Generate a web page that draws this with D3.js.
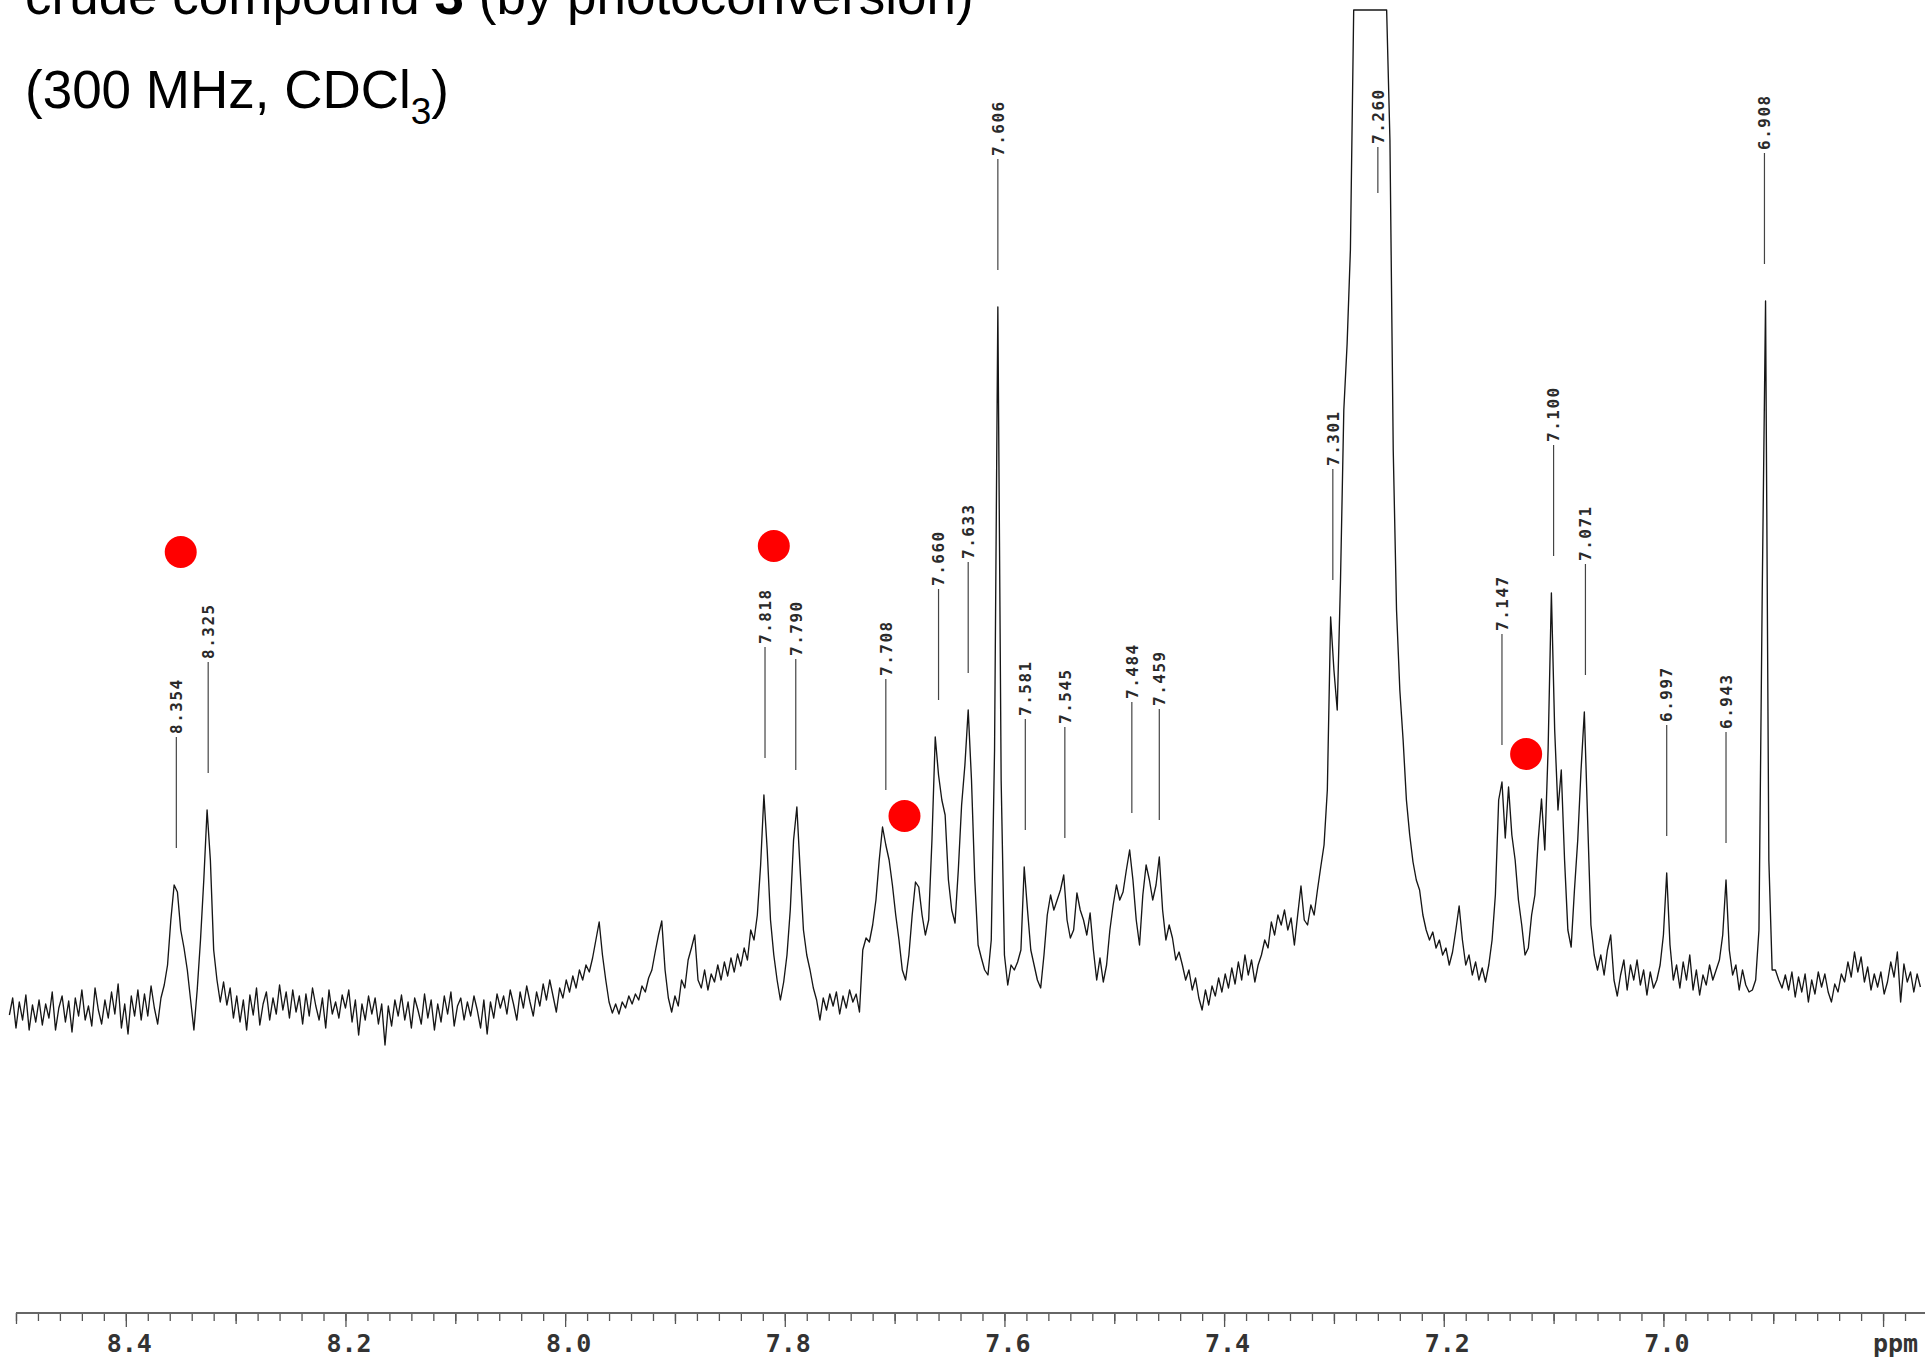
<!DOCTYPE html>
<html>
<head>
<meta charset="utf-8">
<script src="https://cdn.jsdelivr.net/npm/d3@7"></script>
<style>
  html, body { margin: 0; padding: 0; background: #fff; }
  svg { display: block; }
</style>
</head>
<body>
<svg id="chart" width="1925" height="1357"></svg>
<script>
// Spectrum trace: one intensity per 0.003 ppm step, starting at 8.506 ppm.
// Values (arbitrary units, 1000 = plotter clip).
var startPpm = 8.506;
var stepPpm = 0.003;
var intensity = [
  -5, 12, -18, 8, -10, 15, -20, 5, -12, 10,
  -15, 6, -8, 18, -20, 2, 14, -12, 9, -22,
  12, -6, 20, -10, 4, -16, 22, 0, -14, 10,
  -8, 18, -4, 26, -18, 6, -24, 14, -6, 20,
  -10, 16, -6, 24, 2, -14, 12, 25, 45, 90,
  125, 118, 80, 62, 40, 10, -20, 20, 70, 130,
  200, 150, 60, 30, 8, 28, 5, 22, -8, 14,
  -12, 10, -20, 15, -5, 22, -15, 6, 18, -10,
  12, -4, 25, 0, 18, -8, 20, -2, 14, -14,
  16, -6, 22, 4, -10, 12, -18, 20, -4, 8,
  -8, 15, 2, 20, -12, 10, -25, 6, -10, 14,
  -4, 12, -14, 6, -35, 4, -16, 10, -6, 15,
  -10, 8, -18, 12, 0, -14, 16, -8, 10, -20,
  6, -12, 14, -4, 18, -16, 4, 12, -10, 8,
  -6, 14, 0, -18, 10, -24, 8, -8, 16, 2,
  14, -4, 20, 6, -10, 18, 2, 24, 8, -6,
  18, 4, 26, 10, 30, 14, -2, 22, 12, 30,
  18, 34, 22, 40, 30, 45, 38, 52, 70, 88,
  55, 30, 8, -3, 6, -4, 8, 2, 14, 6,
  16, 10, 24, 18, 32, 40, 58, 75, 89, 40,
  12, -2, 14, 4, 30, 22, 50, 62, 75, 30,
  22, 40, 20, 36, 28, 45, 30, 48, 34, 52,
  38, 56, 44, 62, 50, 80, 70, 95, 145, 215,
  160, 90, 55, 30, 10, 28, 55, 100, 170, 203,
  140, 80, 55, 40, 22, 10, -10, 12, 0, 16,
  4, 18, -4, 14, 2, 20, 8, 16, -2, 60,
  72, 68, 85, 110, 150, 183, 165, 150, 125, 95,
  70, 40, 30, 55, 95, 128, 123, 95, 75, 90,
  170, 273, 235, 210, 195, 130, 100, 87, 140, 205,
  245, 300, 230, 130, 65, 52, 40, 35, 70, 260,
  703, 230, 55, 25, 45, 40, 48, 60, 143, 100,
  60, 45, 30, 22, 55, 95, 115, 100, 110, 120,
  135, 90, 72, 80, 117, 100, 90, 75, 97, 60,
  30, 52, 28, 45, 80, 105, 125, 110, 118, 140,
  160, 130, 90, 65, 115, 145, 130, 110, 125, 153,
  100, 70, 85, 72, 50, 58, 45, 30, 40, 20,
  32, 12, 0, 20, 5, 24, 14, 32, 18, 36,
  22, 42, 26, 48, 30, 55, 35, 50, 28, 45,
  55, 70, 62, 88, 75, 95, 85, 100, 80, 92,
  65, 95, 124, 90, 85, 105, 95, 120, 143, 165,
  220, 393, 340, 300, 430, 600, 666, 760, 1000, 1000,
  1000, 1000, 1000, 1000, 1000, 1000, 1000, 1000, 1000, 870,
  560, 400, 320, 270, 210, 175, 148, 130, 120, 95,
  80, 70, 78, 62, 70, 55, 62, 45, 58, 80,
  104, 70, 45, 55, 35, 48, 30, 42, 28, 45,
  70, 115, 210, 228, 172, 223, 175, 150, 110, 85,
  55, 62, 95, 115, 170, 211, 160, 260, 417, 280,
  200, 240, 150, 80, 63, 120, 170, 240, 298, 190,
  85, 55, 40, 55, 35, 60, 75, 30, 14, 35,
  50, 20, 45, 30, 50, 25, 40, 15, 38, 22,
  30, 45, 75, 137, 65, 30, 45, 22, 48, 30,
  55, 20, 40, 15, 35, 25, 45, 30, 40, 50,
  75, 130, 60, 35, 45, 20, 40, 25, 18, 20,
  30, 80, 420, 709, 150, 40, 40, 30, 22, 35,
  20, 38, 13, 33, 18, 36, 8, 30, 16, 38,
  23, 36, 18, 8, 26, 18, 36, 28, 48, 33,
  58, 38, 53, 28, 43, 20, 36, 23, 38, 16,
  28, 48, 33, 58, 8, 46, 28, 38, 18, 36,
  23
];

// Peak picks printed above the trace.
var peakLabels = ["8.354", "8.325", "7.818", "7.790", "7.708", "7.660", "7.633",
                  "7.606", "7.581", "7.545", "7.484", "7.459", "7.301", "7.260",
                  "7.147", "7.100", "7.071", "6.997", "6.943", "6.908"];

// Red dots marking the product signals.
var markerPpm = [8.350, 7.810, 7.691, 7.125];
var markerHeight = [458, 464, 194, 256];

// Axis ticks in ppm.
var majorTicks = [8.4, 8.2, 8.0, 7.8, 7.6, 7.4, 7.2, 7.0, 6.8];
var mediumTicks = [8.5, 8.3, 8.1, 7.9, 7.7, 7.5, 7.3, 7.1, 6.9];
var minorTicks = d3.range(0, 87).map(function (i) { return +(8.50 - i * 0.02).toFixed(2); });

// Title text.
var titleStart = "crude compound ";
var titleBold = "3";
var titleEnd = " (by photoconversion)";
var subtitleMain = "(300 MHz, CDCl";
var subtitleSub = "3";

var svg = d3.select("#chart");
svg.append("rect").attr("width", 1925).attr("height", 1357).attr("fill", "#ffffff");

// Scales: ppm runs right to left.
var x = d3.scaleLinear().domain([8.51, 6.76]).range([5, 1927]);
var y = d3.scaleLinear().domain([0, 1000]).range([1010, 10]);

var points = intensity.map(function (v, i) {
    return { ppm: startPpm - i * stepPpm, v: v };
});

// Title.
var t1 = svg.append("text")
    .attr("x", 25).attr("y", 14)
    .attr("font-family", "Liberation Sans, Arial, sans-serif")
    .attr("font-size", 53)
    .attr("fill", "#000");
t1.append("tspan").text(titleStart);
t1.append("tspan").attr("font-weight", "bold").text(titleBold);
t1.append("tspan").text(titleEnd);

var t2 = svg.append("text")
    .attr("x", 25).attr("y", 108)
    .attr("font-family", "Liberation Sans, Arial, sans-serif")
    .attr("font-size", 53)
    .attr("fill", "#000");
t2.append("tspan").text(subtitleMain);
t2.append("tspan").attr("font-size", 37).attr("dy", 16).text(subtitleSub);
t2.append("tspan").attr("dy", -16).text(")");

// Spectrum trace.
var line = d3.line()
    .x(function (d) { return x(d.ppm); })
    .y(function (d) { return y(d.v); });

svg.append("path")
    .datum(points)
    .attr("d", line)
    .attr("fill", "none")
    .attr("stroke", "#161616")
    .attr("stroke-width", 1.35)
    .attr("stroke-linejoin", "round");

// Peak labels: a short stem above each peak and the rotated value.
var labelGroup = svg.append("g").attr("class", "peak-labels");
peakLabels.forEach(function (lab) {
    var val = +lab;
    var top = d3.max(points.filter(function (p) { return Math.abs(p.ppm - val) <= 0.0061; }),
        function (p) { return p.v; });
    var lineBottom, lineTop;
    if (top >= 1000) {
        // off-scale peak: stem sits inside the clipped box
        lineBottom = y(1000) + 183;
        lineTop = lineBottom - 46;
    } else {
        lineBottom = y(top) - 37;
        lineTop = lineBottom - 111;
    }
    var px = x(val);
    labelGroup.append("line")
        .attr("x1", px).attr("x2", px)
        .attr("y1", lineTop).attr("y2", lineBottom)
        .attr("stroke", "#444")
        .attr("stroke-width", 1.2);
    labelGroup.append("text")
        .attr("transform", "translate(" + px + "," + (lineTop - 3) + ") rotate(-90)")
        .attr("dy", "0.36em")
        .attr("text-anchor", "start")
        .attr("font-family", "DejaVu Sans Mono, monospace")
        .attr("font-size", 16)
        .attr("font-weight", "bold")
        .attr("letter-spacing", 1.5)
        .attr("fill", "#2a2a2a")
        .text(lab);
});

// Red markers.
svg.append("g").selectAll("circle")
    .data(markerPpm)
    .join("circle")
    .attr("cx", function (d) { return x(d); })
    .attr("cy", function (d, i) { return y(markerHeight[i]); })
    .attr("r", 16)
    .attr("fill", "#ff0000");

// Axis.
var axisY = 1313;
function styleAxis(g) {
    g.select(".domain").remove();
    g.selectAll(".tick line").attr("stroke", "#555").attr("stroke-width", 1.3);
}

svg.append("g")
    .attr("transform", "translate(0," + axisY + ")")
    .call(d3.axisBottom(x).tickValues(minorTicks).tickSize(8).tickFormat(""))
    .call(styleAxis);

svg.append("g")
    .attr("transform", "translate(0," + axisY + ")")
    .call(d3.axisBottom(x).tickValues(mediumTicks).tickSize(11).tickFormat(""))
    .call(styleAxis);

var major = svg.append("g")
    .attr("transform", "translate(0," + axisY + ")")
    .call(d3.axisBottom(x).tickValues(majorTicks).tickSize(14).tickPadding(7)
        .tickFormat(function (d) { return d === 6.8 ? "ppm" : d3.format(".1f")(d); }))
    .call(styleAxis);

major.selectAll(".tick text")
    .attr("font-family", "DejaVu Sans Mono, monospace")
    .attr("font-size", 25)
    .attr("font-weight", "bold")
    .attr("fill", "#333")
    .attr("dx", function (d) { return d === 6.8 ? 12 : 3; });

svg.append("line")
    .attr("x1", x(8.50)).attr("x2", 1925)
    .attr("y1", axisY).attr("y2", axisY)
    .attr("stroke", "#666")
    .attr("stroke-width", 2.2);
</script>
</body>
</html>
